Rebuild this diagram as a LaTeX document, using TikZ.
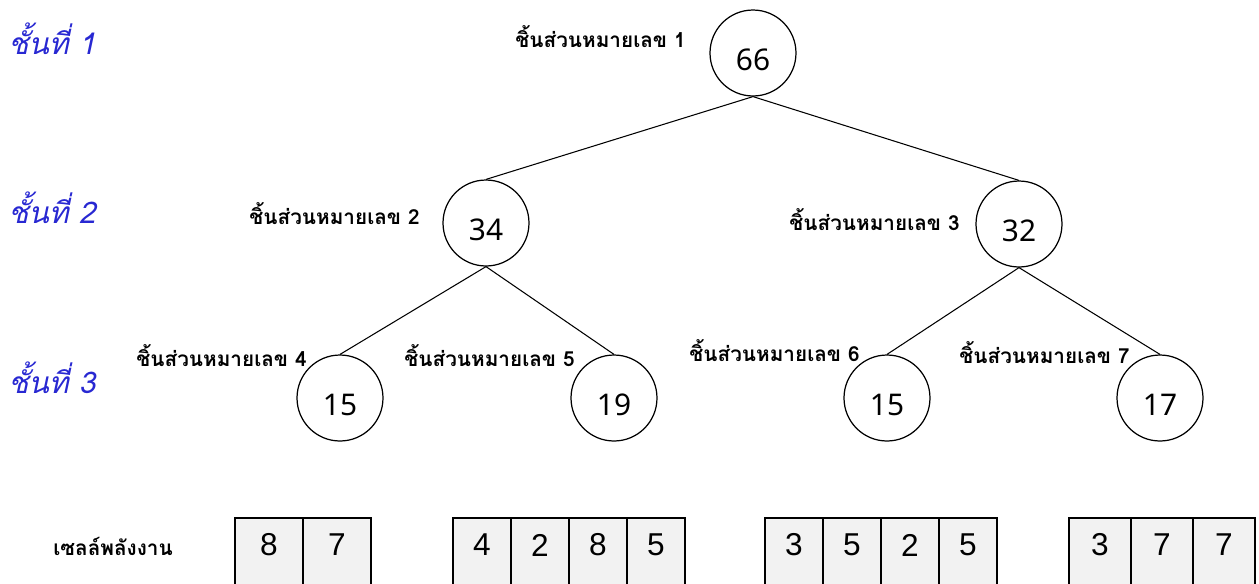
\documentclass[tikz,border=0pt]{standalone}
\usepackage{fontspec}
\newfontfamily\thaifont[Script=Thai]{Loma}
\newfontfamily\numfont{Noto Sans}
\newfontfamily\cellfont{Liberation Sans}
\definecolor{levelblue}{RGB}{40,40,210}
\definecolor{cellgray}{RGB}{242,242,242}

\begin{document}
\begin{tikzpicture}[x=0.02cm,y=-0.02cm,
  knot/.style={draw,circle,line width=0.7pt,minimum size=1.72cm,inner sep=0pt,
    font=\numfont\fontsize{17}{20}\selectfont,text height=20pt,text depth=0pt},
  piece/.style={font=\thaifont\bfseries\fontsize{11.8}{14}\selectfont,inner sep=0pt,anchor=base east},
  level/.style={font=\thaifont\itshape\fontsize{17}{20}\selectfont,text=levelblue,inner sep=0pt,anchor=base west},
  cell/.style={draw,line width=1.1pt,fill=cellgray},
  digit/.style={font=\cellfont\fontsize{18}{21}\selectfont,inner sep=0pt}]
\useasboundingbox (0,0) rectangle (1259,583);
\clip (0,0) rectangle (1259,583);
% levels
\node[level] (s1) at (8,54){ชั้นที่ 1};
\node[level] (s2) at (8,223){ชั้นที่ 2};
\node[level] (s3) at (8,393){ชั้นที่ 3};
% pieces
\node[knot] (p1) at (753,53){66};
\node[knot] (p2) at (486,223){34};
\node[knot] (p3) at (1019,224){32};
\node[knot] (p4) at (340,398){15};
\node[knot] (p5) at (614,398){19};
\node[knot] (p6) at (887,398){15};
\node[knot] (p7) at (1160,398){17};
\draw[line width=0.6pt] (p2.north)--(p1.south)--(p3.north);
\draw[line width=0.6pt] (p4.north)--(p2.south)--(p5.north);
\draw[line width=0.6pt] (p6.north)--(p3.south)--(p7.north);
\node[piece] (l1) at (686,47){ชิ้นส่วนหมายเลข 1};
\node[piece] (l2) at (420,224){ชิ้นส่วนหมายเลข 2};
\node[piece] (l3) at (960,230){ชิ้นส่วนหมายเลข 3};
\node[piece] (l4) at (307,366){ชิ้นส่วนหมายเลข 4};
\node[piece] (l5) at (575,366){ชิ้นส่วนหมายเลข 5};
\node[piece] (l6) at (860,361){ชิ้นส่วนหมายเลข 6};
\node[piece] (l7) at (1130,363){ชิ้นส่วนหมายเลข 7};
% cells
\node[piece,anchor=base west] (cells) at (53,555){เซลล์พลังงาน};
\foreach \x/\w/\vals [count=\g] in {235/68/{8,7},453/58/{4,2,8,5},765/58/{3,5,2,5},1069/62/{3,7,7}}{
  \foreach \v [count=\i] in \vals {
    \draw[cell] (\x+\w*\i-\w,518) rectangle ++(\w,80);
    \node[digit] (c\g\i) at (\x+\w*\i-\w/2,545){\v};
  }
}
\end{tikzpicture}
\end{document}
